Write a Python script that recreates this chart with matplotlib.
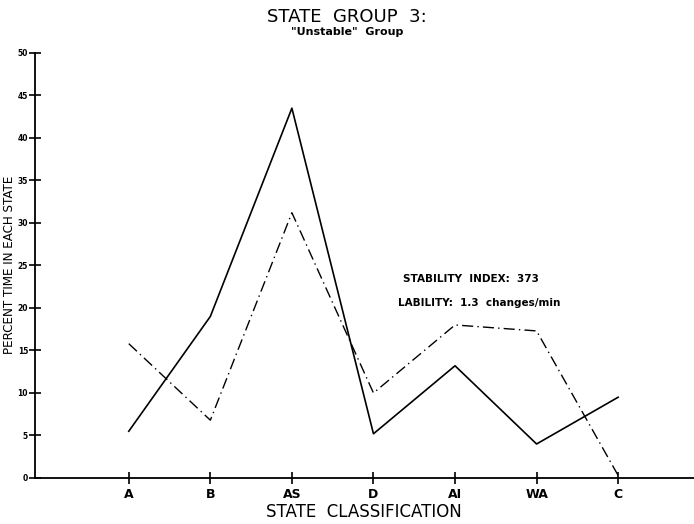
import numpy as np
import matplotlib
matplotlib.use("Agg")
import matplotlib.pyplot as plt

states = ['A', 'B', 'AS', 'D', 'AI', 'WA', 'C']
solid_vals = [5.5, 19.0, 43.5, 5.2, 13.2, 4.0, 9.5]
dashdot_vals = [15.8, 6.8, 31.2, 10.0, 18.0, 17.3, 0.3]
y_ticks = [0, 5, 10, 15, 20, 25, 30, 35, 40, 45, 50]

fig = plt.figure(figsize=(6.94, 5.24), dpi=100)
ax = fig.add_axes([0.0504, 0.0878, 0.9496, 0.8112])

x = np.arange(len(states))
ax.plot(x, solid_vals, color='black', lw=1.2, ls='-')
ax.plot(x, dashdot_vals, color='black', lw=1.0, ls=(0, (8, 3, 1, 3)))

ax.set_xlim(-1.15, 6.93)
ax.set_ylim(0, 50)
ax.set_xticks(x)
ax.set_xticklabels(states, fontsize=9, fontweight='bold')
ax.set_yticks(y_ticks)
ax.set_yticklabels([str(v) for v in y_ticks], fontsize=5.5, fontweight='bold')
ax.tick_params(axis='both', direction='inout', length=8, width=1.2, pad=1)
ax.tick_params(axis='x', pad=3)

for s in ['top', 'right']:
    ax.spines[s].set_visible(False)
ax.spines['left'].set_linewidth(1.3)
ax.spines['bottom'].set_linewidth(1.3)

# axis titles placed by hand, like the plotter output
fig.text(0.5245, 0.022, 'STATE  CLASSIFICATION', ha='center', va='center', fontsize=12)
fig.text(0.013, 0.495, 'PERCENT TIME IN EACH STATE', ha='center', va='center',
         rotation=90, fontsize=9.5, fontstretch='condensed')

fig.text(0.5, 0.967, 'STATE  GROUP  3:', ha='center', va='center', fontsize=13)
fig.text(0.5, 0.938, '"Unstable"  Group', ha='center', va='center', fontsize=8, fontweight='bold')

ax.text(3.36, 23.0, 'STABILITY  INDEX:  373', fontsize=7.5, fontweight='bold')
ax.text(3.30, 20.2, 'LABILITY:  1.3  changes/min', fontsize=7.5, fontweight='bold')

fig.savefig('out.png', dpi=100)
